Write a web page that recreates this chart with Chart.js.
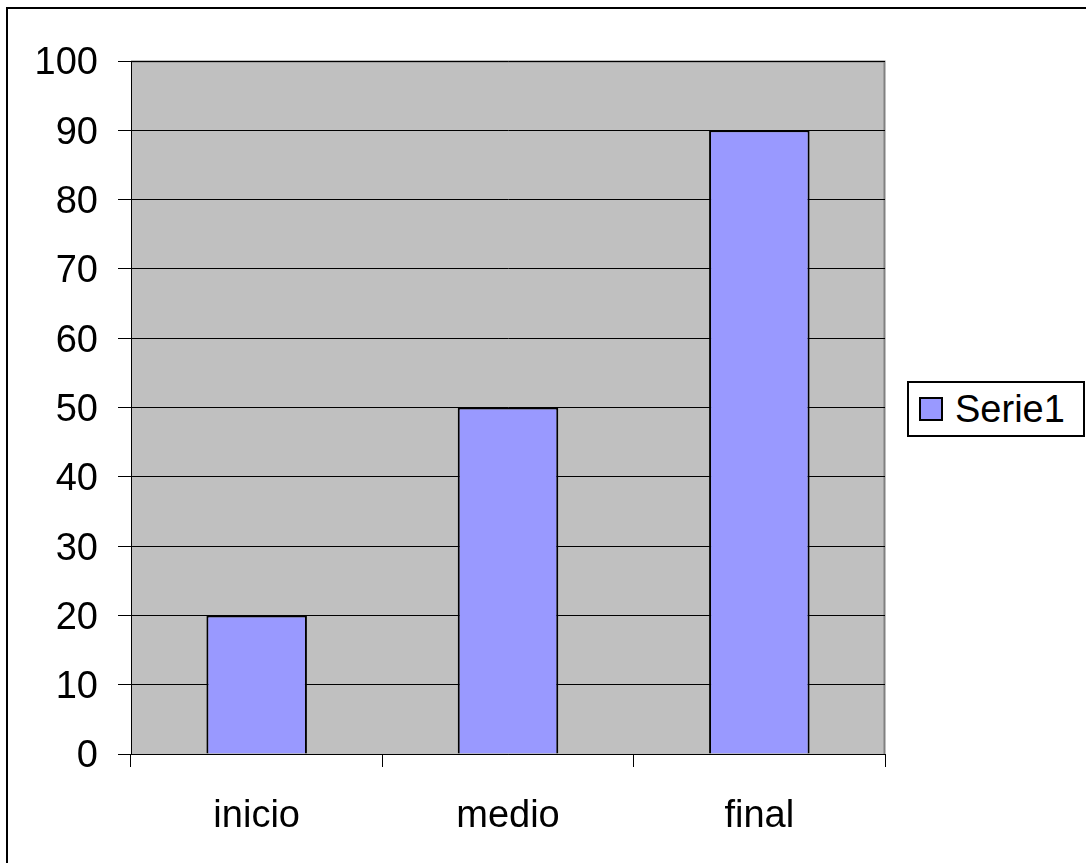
<!DOCTYPE html>
<html>
<head>
<meta charset="utf-8">
<script src="https://cdn.jsdelivr.net/npm/chart.js@4.4.1/dist/chart.umd.min.js"></script>
<style>
  html, body { margin: 0; padding: 0; background: #fff; overflow: hidden; }
  #wrap { position: relative; width: 1086px; height: 863px; }
  #frame {
    position: absolute; left: 6px; top: 7px; width: 1200px; height: 1000px;
    border: 2px solid #000; box-sizing: border-box;
  }
  #chart { position: absolute; left: 0; top: 0; }
  #legend {
    position: absolute; left: 907px; top: 381px; width: 178px; height: 56px;
    border: 2px solid #000; box-sizing: border-box; background: #fff;
    font-family: "Liberation Sans", Arial, sans-serif; font-size: 38px;
    display: flex; align-items: center;
  }
  #legend .swatch {
    width: 24px; height: 24px; margin-left: 10px; margin-right: 12px;
    border: 2px solid #000; box-sizing: border-box; background: #9999FF;
  }
</style>
</head>
<body>
<div id="wrap">
  <div id="frame"></div>
  <canvas id="chart" width="1086" height="863"></canvas>
  <div id="legend"><div class="swatch"></div><span id="legendLabel"></span></div>
</div>
<script>
const categories = ['inicio', 'medio', 'final'];
const serie1 = [20, 50, 90];
const seriesName = 'Serie1';
const yMin = 0;
const yMax = 100;
const yStep = 10;

document.getElementById('legendLabel').textContent = seriesName;

// gray plot area with the darker gray frame on top/right
const plotBackground = {
  id: 'plotBackground',
  beforeDraw(chart) {
    const { ctx, chartArea: a } = chart;
    ctx.save();
    ctx.fillStyle = '#C0C0C0';
    ctx.fillRect(a.left, a.top, a.right - a.left, a.bottom - a.top);
    ctx.strokeStyle = '#808080';
    ctx.lineWidth = 2;
    ctx.beginPath();
    ctx.moveTo(a.left, a.top + 0.5);
    ctx.lineTo(a.right - 0.5, a.top + 0.5);
    ctx.lineTo(a.right - 0.5, a.bottom);
    ctx.stroke();
    ctx.restore();
  }
};

const font = { family: '"Liberation Sans", Arial, sans-serif', size: 38 };

new Chart(document.getElementById('chart'), {
  type: 'bar',
  data: {
    labels: categories,
    datasets: [{
      label: seriesName,
      data: serie1,
      backgroundColor: '#9999FF',
      borderColor: '#000000',
      borderWidth: 2,
      categoryPercentage: 0.4,
      barPercentage: 1
    }]
  },
  options: {
    responsive: false,
    animation: false,
    layout: { padding: { left: 0, top: 61, right: 201, bottom: 0 } },
    plugins: {
      legend: { display: false },
      tooltip: { enabled: false }
    },
    scales: {
      x: {
        grid: {
          offset: true,
          drawOnChartArea: false,
          drawTicks: true,
          tickLength: 13,
          color: '#000'
        },
        border: { color: '#000', width: 1 },
        ticks: { color: '#000', font: font, padding: 27, maxRotation: 0 },
        afterFit(scale) { scale.height = 863 - 754; }
      },
      y: {
        min: yMin,
        max: yMax,
        grid: { color: '#000', tickLength: 13, lineWidth: 1 },
        border: { color: '#000', width: 1 },
        ticks: { stepSize: yStep, color: '#000', font: font, padding: 20, labelOffset: 3 },
        afterFit(scale) { scale.width = 131; }
      }
    }
  },
  plugins: [plotBackground]
});
</script>
</body>
</html>
